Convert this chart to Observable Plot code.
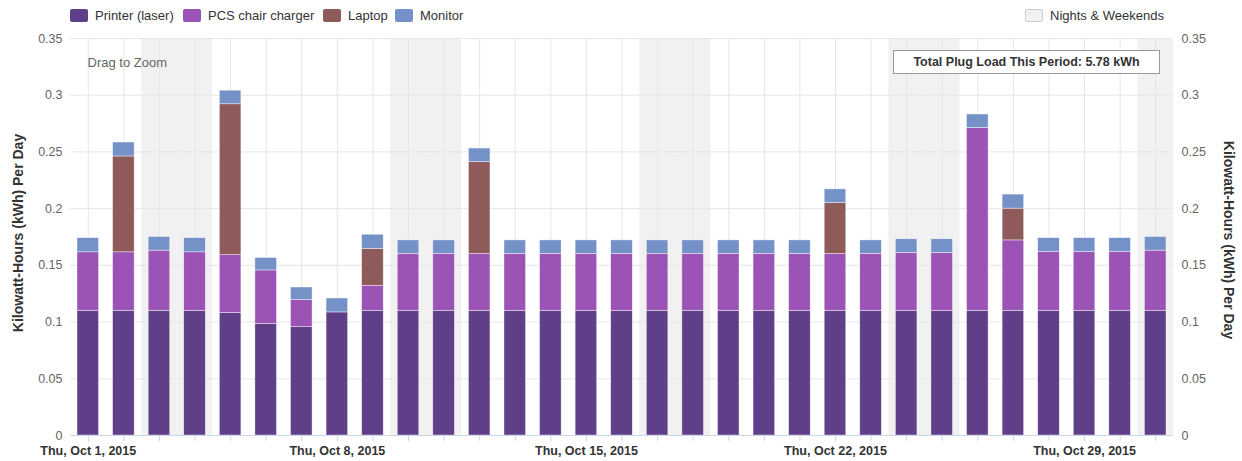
<!DOCTYPE html>
<html><head><meta charset="utf-8">
<script src="https://cdn.jsdelivr.net/npm/d3@7"></script>
<script src="https://cdn.jsdelivr.net/npm/@observablehq/plot@0.6"></script>
<style>
body{margin:0;background:#fff;font-family:"Liberation Sans",Arial,sans-serif;}
#wrap{position:relative;width:1242px;height:461px;overflow:hidden;}
#legend{position:relative;height:30px;}
.li{position:absolute;top:8px;height:15px;display:flex;align-items:center;font-size:13px;color:#333;white-space:nowrap;}
.sw{width:18px;height:13px;border-radius:2px;margin-right:7px;box-sizing:border-box;}
#total{position:absolute;left:893px;top:50px;width:267px;height:24px;box-sizing:border-box;border:1px solid #999;background:#fff;font-weight:bold;font-size:12.5px;color:#333;display:flex;align-items:center;justify-content:center;white-space:nowrap;}
#chart svg{display:block;}
</style></head>
<body><div id="wrap"><div id="legend"></div><div id="chart"></div><div id="total"></div></div>
<script>
// ---- data ----
const days = [1,2,3,4,5,6,7,8,9,10,11,12,13,14,15,16,17,18,19,20,21,22,23,24,25,26,27,28,29,30,31];
const weekendDays = [3,4,10,11,17,18,24,25,31];
const series = ["Printer (laser)","PCS chair charger","Laptop","Monitor"];
const colors = ["#5f3f87","#9b53b5","#8f5a5a","#7592c8"];
const printer = [0.110,0.110,0.110,0.110,0.108,0.0985,0.0955,0.1085,0.110,0.110,0.110,0.110,0.110,0.110,0.110,0.110,0.110,0.110,0.110,0.110,0.110,0.110,0.110,0.110,0.110,0.110,0.110,0.110,0.110,0.110,0.110];
const pcs     = [0.0515,0.0515,0.053,0.0515,0.051,0.047,0.024,0,0.022,0.050,0.050,0.050,0.050,0.050,0.050,0.050,0.050,0.050,0.050,0.050,0.050,0.050,0.050,0.051,0.051,0.161,0.062,0.052,0.052,0.052,0.053];
const laptop  = [0,0.0845,0,0,0.133,0,0,0,0.0326,0,0,0.081,0,0,0,0,0,0,0,0,0,0.045,0,0,0,0,0.028,0,0,0,0];
const monitor = [0.0125,0.0123,0.012,0.0125,0.012,0.011,0.011,0.0123,0.0124,0.012,0.012,0.012,0.012,0.012,0.012,0.012,0.012,0.012,0.012,0.012,0.012,0.012,0.012,0.012,0.012,0.012,0.0124,0.012,0.012,0.012,0.012];
const yTicks = [0,0.05,0.1,0.15,0.2,0.25,0.3,0.35];
const labelDays = [1,8,15,22,29];
const labelTexts = ["Thu, Oct 1, 2015","Thu, Oct 8, 2015","Thu, Oct 15, 2015","Thu, Oct 22, 2015","Thu, Oct 29, 2015"];
const totalText = "Total Plug Load This Period: 5.78 kWh";
const noteText = "Drag to Zoom";
const yTitle = "Kilowatt-Hours (kWh) Per Day";
const shadeLabel = "Nights & Weekends";
const shadeColor = "#f1f1f1";

// ---- tidy rows ----
const valuesBySeries = [printer, pcs, laptop, monitor];
const rows = [];
days.forEach((d, i) => {
  series.forEach((s, j) => rows.push({day: d, series: s, value: valuesBySeries[j][i]}));
});

// ---- legend ----
const legend = document.getElementById("legend");
const legendLeft = [70, 183, 323, 395];
series.forEach((s, j) => {
  const it = document.createElement("div");
  it.className = "li"; it.style.left = legendLeft[j] + "px";
  const sw = document.createElement("div"); sw.className = "sw"; sw.style.background = colors[j];
  const tx = document.createElement("span"); tx.textContent = s;
  it.append(sw, tx); legend.append(it);
});
{
  const it = document.createElement("div");
  it.className = "li"; it.style.left = "1025px";
  const sw = document.createElement("div"); sw.className = "sw";
  sw.style.background = shadeColor; sw.style.border = "1px solid #ccc";
  const tx = document.createElement("span"); tx.textContent = shadeLabel;
  it.append(sw, tx); legend.append(it);
}
document.getElementById("total").textContent = totalText;

// ---- chart ----
const fmt = d => String(+d.toFixed(2));
const chart = Plot.plot({
  width: 1242, height: 431,
  marginTop: 8, marginBottom: 26, marginLeft: 70, marginRight: 69,
  style: {fontFamily: "'Liberation Sans', Arial, sans-serif", background: "transparent"},
  x: {type: "band", domain: days, padding: 0, round: false},
  y: {domain: [0, 0.35]},
  color: {domain: series, range: colors},
  marks: [
    Plot.barY(weekendDays, {x: d => d, y1: 0, y2: 0.35, fill: shadeColor}),
    Plot.gridY(yTicks, {stroke: "#e6e6e6", strokeOpacity: 1}),
    Plot.gridX(days, {stroke: "#e6e6e6", strokeOpacity: 1}),
    Plot.barY(rows, {x: "day", y: "value", fill: "series", insetLeft: 7, insetRight: 7, stroke: "white", strokeWidth: 0.6, strokeOpacity: 0.7}),
    Plot.ruleY([0], {stroke: "#ccd6eb"}),
    Plot.axisX(days, {tickSize: 6, tickFormat: () => "", color: "#ccd6eb", label: null}),
    Plot.axisX(labelDays, {tickSize: 0, tickPadding: 11, tickFormat: d => labelTexts[labelDays.indexOf(d)], color: "#333", fontWeight: "bold", fontSize: 12.5, label: null}),
    Plot.axisY(yTicks, {anchor: "left", tickSize: 0, tickPadding: 8, tickFormat: fmt, color: "#666", fontSize: 12.5, label: null}),
    Plot.axisY(yTicks, {anchor: "right", tickSize: 0, tickPadding: 8, tickFormat: fmt, color: "#666", fontSize: 12.5, label: null}),
    Plot.text([yTitle], {frameAnchor: "left", dx: -52, dy: -4, rotate: -90, textAnchor: "middle", fontWeight: "bold", fontSize: 14, fill: "#333"}),
    Plot.text([yTitle], {frameAnchor: "right", dx: 55, dy: 3, rotate: 90, textAnchor: "middle", fontWeight: "bold", fontSize: 14, fill: "#333"}),
    Plot.text([noteText], {frameAnchor: "top-left", dx: 17, dy: 24, lineAnchor: "middle", textAnchor: "start", fill: "#666", fontSize: 13})
  ]
});
document.getElementById("chart").append(chart);
</script>
</body></html>
